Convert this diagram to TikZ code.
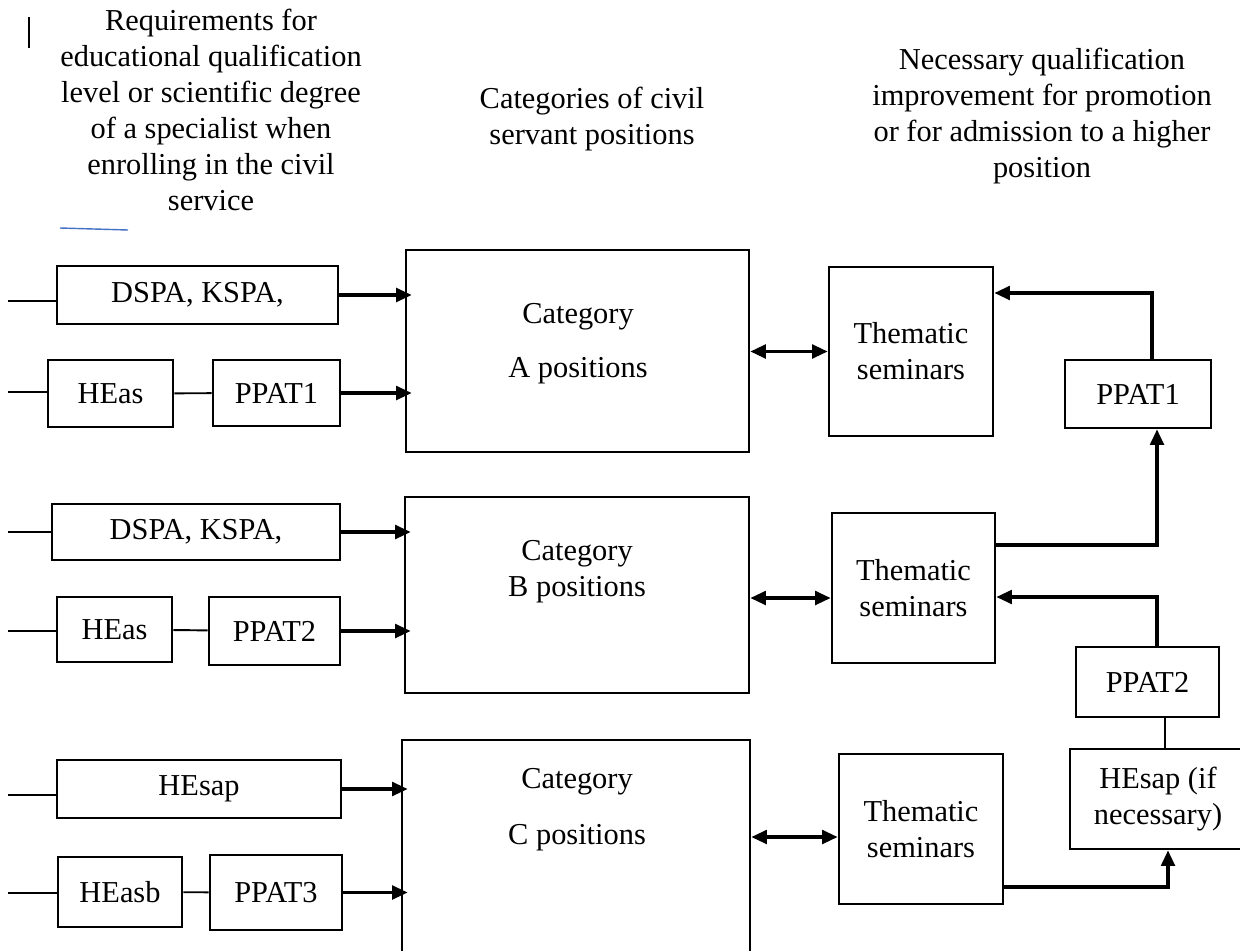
\documentclass[tikz,border=0pt]{standalone}
\usepackage{fontspec}
\setmainfont{Liberation Serif}
\usepackage{xcolor}
\usetikzlibrary{arrows.meta, positioning}
\definecolor{cursorblue}{HTML}{4472C4}

\begin{document}
\begin{tikzpicture}[
    x=0.02cm, y=-0.02cm,
    font=\fontsize{17.3pt}{20.5pt}\selectfont,
    box/.style={rectangle, draw=black, line width=1.5pt, fill=white, align=center, inner sep=0pt},
    header/.style={align=center},
    stub/.style={line width=1.1pt},
    arrow/.style={-{Triangle[length=3.1mm,width=2.7mm]}, line width=1.9pt},
    inarrow/.style={arrow, shorten >=-0.14cm},
    dblarrow/.style={{Triangle[length=3.1mm,width=2.7mm]}-{Triangle[length=3.1mm,width=2.7mm]}, line width=1.9pt},
    link/.style={line width=1.5pt}
]
\useasboundingbox (0,0) rectangle (1240,950);
\clip (0,0) rectangle (1240,950);

% column headers
\node[header] (hleft) at (211,110) {Requirements for\\educational qualification\\level or scientific degree\\of a specialist when\\enrolling in the civil\\service};
\node[header] (hmid) at (592,119) {Categories of civil\\servant positions};
\node[header] (hright) at (1042,116) {Necessary qualification\\improvement for promotion\\or for admission to a higher\\position};
\draw[line width=0.9pt] (29,17) -- (29,48);
\draw[cursorblue, line width=0.8pt] (60,228) -- (128,230);

% category A
\node[box, minimum width=5.62cm, minimum height=1.16cm] (dspaA) at (197.5,295) {DSPA, KSPA,};
\node[box, minimum width=2.5cm, minimum height=1.34cm] (heasA) at (110.5,393.5) {HEas};
\node[box, minimum width=2.54cm, minimum height=1.32cm] (ppatA) at (276.5,393) {PPAT1};
\node[box, minimum width=6.86cm, minimum height=4.04cm] (catA) at (577.5,351) {};
\node[header] (catAtext) at (578,343.5) {Category\\[10pt]A positions};
\node[box, minimum width=3.28cm, minimum height=3.38cm] (semA) at (911,351.5) {Thematic\\seminars};

% category B
\node[box, minimum width=5.76cm, minimum height=1.12cm] (dspaB) at (196,532) {DSPA, KSPA,};
\node[box, minimum width=2.3cm, minimum height=1.3cm] (heasB) at (114.5,629.5) {HEas};
\node[box, minimum width=2.62cm, minimum height=1.36cm] (ppatB) at (274.5,631) {PPAT2};
\node[box, minimum width=6.88cm, minimum height=3.92cm] (catB) at (577,595) {};
\node[header] (catBtext) at (577,571.5) {Category\\B positions};
\node[box, minimum width=3.26cm, minimum height=3.0cm] (semB) at (913.5,588) {Thematic\\seminars};

% category C
\node[box, minimum width=5.68cm, minimum height=1.16cm] (hesapC) at (199,789) {HEsap};
\node[box, minimum width=2.48cm, minimum height=1.4cm] (heasbC) at (120,892) {HEasb};
\node[box, minimum width=2.64cm, minimum height=1.5cm] (ppatC) at (276,892.5) {PPAT3};
\node[box, minimum width=6.96cm, minimum height=4.6cm] (catC) at (576,855) {};
\node[header] (catCtext) at (577,809.5) {Category\\[11pt]C positions};
\node[box, minimum width=3.28cm, minimum height=3.0cm] (semC) at (921,829) {Thematic\\seminars};

% right column
\node[box, minimum width=2.92cm, minimum height=1.36cm] (ppatR1) at (1138,394) {PPAT1};
\node[box, minimum width=2.86cm, minimum height=1.4cm] (ppatR2) at (1147.5,682) {PPAT2};
\node[box, minimum width=3.52cm, minimum height=2.0cm] (hesapR) at (1158,799) {HEsap (if\\necessary)};

% stubs from the left margin
\coordinate (sA1) at (8,301);
\coordinate (sA2) at (8,392);
\coordinate (sB1) at (8,532);
\coordinate (sB2) at (8,631);
\coordinate (sC1) at (8,795);
\coordinate (sC2) at (8,893);
\draw[stub] (sA1) -- (sA1 -| dspaA.west);
\draw[stub] (sA2) -- (sA2 -| heasA.west);
\draw[stub] (sB1) -- (sB1 -| dspaB.west);
\draw[stub] (sB2) -- (sB2 -| heasB.west);
\draw[stub] (sC1) -- (sC1 -| hesapC.west);
\draw[stub] (sC2) -- (sC2 -| heasbC.west);

\draw[stub] (heasA) -- (ppatA);
\draw[stub] (heasB) -- (ppatB);
\draw[stub] (heasbC) -- (ppatC);

% into the categories
\draw[inarrow] (dspaA.east) -- (dspaA.east -| catA.west);
\draw[inarrow] (ppatA.east) -- (ppatA.east -| catA.west);
\draw[inarrow] (dspaB.east) -- (dspaB.east -| catB.west);
\draw[inarrow] (ppatB.east) -- (ppatB.east -| catB.west);
\draw[inarrow] (hesapC.east) -- (hesapC.east -| catC.west);
\draw[inarrow] (ppatC.east) -- (ppatC.east -| catC.west);

% categories and seminars
\draw[dblarrow] (catA.east |- semA.west) -- (semA.west);
\draw[dblarrow] (catB.east |- 0,598) -- (semB.west |- 0,598);
\draw[dblarrow] (catC.east |- 0,837) -- (semC.west |- 0,837);

% promotion path
\draw[arrow] (semC.east |- 0,887) -| (hesapR.south -| 1168,0);
\draw[link] (hesapR.north -| 1165,0) -- (ppatR2.south -| 1165,0);
\draw[arrow] (ppatR2.north -| 1157,0) |- (semB.east |- 0,597);
\draw[arrow] (semB.east |- 0,545) -| (ppatR1.south -| 1157,0);
\draw[arrow] (ppatR1.north -| 1152,0) |- (semA.east |- 0,293);
\end{tikzpicture}
\end{document}
